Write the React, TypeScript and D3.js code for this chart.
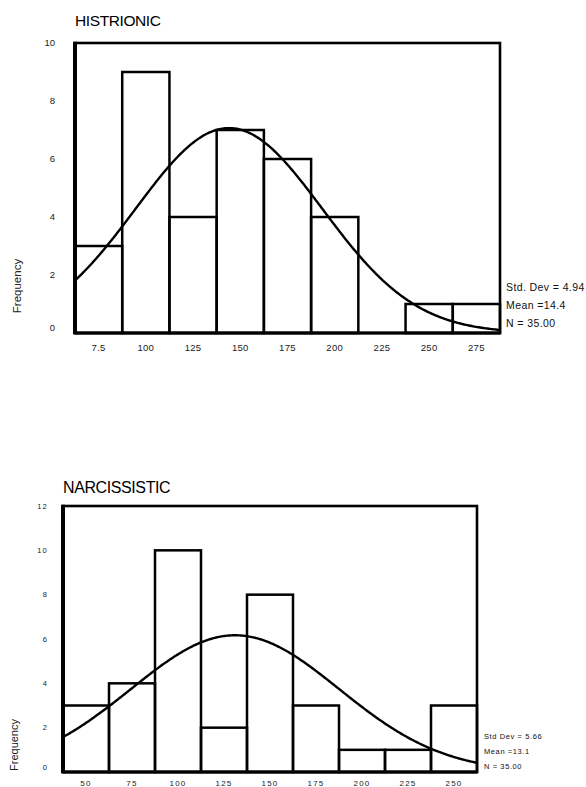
import React from "react";
import * as d3 from "d3";

// ---------- data ----------
const histTitle = "HISTRIONIC";
const histCounts = [3, 9, 4, 7, 6, 4, 0, 1, 1];
const histBinCenters = [7.5, 10, 12.5, 15, 17.5, 20, 22.5, 25, 27.5];
const histTickLabels = ["7.5", "100", "125", "150", "175", "200", "225", "250", "275"];
const histYTicks = [0, 2, 4, 6, 8, 10];
const histStats = [4.94, 14.4, 35]; // sd, mean, n
const histStatLabels = ["Std. Dev = 4.94", "Mean =14.4", "N = 35.00"];

const narcTitle = "NARCISSISTIC";
const narcCounts = [3, 4, 10, 2, 8, 3, 1, 1, 3];
const narcBinCenters = [5, 7.5, 10, 12.5, 15, 17.5, 20, 22.5, 25];
const narcTickLabels = ["50", "75", "100", "125", "150", "175", "200", "225", "250"];
const narcYTicks = [0, 2, 4, 6, 8, 10, 12];
const narcStats = [5.66, 13.1, 35];
const narcStatLabels = ["Std Dev = 5.66", "Mean =13.1", "N = 35.00"];

const BIN_WIDTH = 2.5;
const FONT = "'Liberation Sans', Arial, sans-serif";

type Layout = {
  left: number; right: number; top: number; bottom: number;
  titleX: number; titleY: number; titleSize: number;
  yLabelX: number; yLabelSize: number; yLabelSpacing: number;
  xLabelY: number; xLabelSize: number; xLabelSpacing: number;
  freqX: number; freqY: number; freqSize: number;
  statX: number; statYs: number[]; statSize: number; statSpacing: number;
};

type Props = {
  title: string; counts: number[]; centers: number[]; tickLabels: string[];
  yTicks: number[]; stats: number[]; statLabels: string[]; L: Layout;
};

function Histogram({ title, counts, centers, tickLabels, yTicks, stats, statLabels, L }: Props) {
  const x0 = centers[0] - BIN_WIDTH / 2;
  const x1 = centers[centers.length - 1] + BIN_WIDTH / 2;
  const x = d3.scaleLinear().domain([x0, x1]).range([L.left, L.right]);
  const yMax = yTicks[yTicks.length - 1];
  const y = d3.scaleLinear().domain([0, yMax]).range([L.bottom, L.top]);

  const [sd, mean, n] = stats;
  const peak = (n * BIN_WIDTH) / (sd * Math.sqrt(2 * Math.PI));
  const curvePts = d3.range(0, 301).map((i) => {
    const v = x0 + ((x1 - x0) * i) / 300;
    const z = (v - mean) / sd;
    return [v, peak * Math.exp(-0.5 * z * z)] as [number, number];
  });
  const line = d3.line<[number, number]>()
    .x((d) => x(d[0]))
    .y((d) => y(d[1]));

  return (
    <g>
      <text x={L.titleX} y={L.titleY} fontSize={L.titleSize} fontFamily={FONT} letterSpacing={-0.4}>{title}</text>
      {counts.map((c, i) =>
        c > 0 ? (
          <rect key={i}
            x={x(centers[i] - BIN_WIDTH / 2)}
            y={y(c)}
            width={x(centers[i] + BIN_WIDTH / 2) - x(centers[i] - BIN_WIDTH / 2)}
            height={y(0) - y(c)}
            fill="none" stroke="#000" strokeWidth={2.5} />
        ) : null
      )}
      <path d={line(curvePts) || ""} fill="none" stroke="#000" strokeWidth={2.4} strokeLinejoin="round" />
      <rect x={L.left} y={L.top} width={L.right - L.left} height={L.bottom - L.top}
        fill="none" stroke="#000" strokeWidth={2.6} />
      <line x1={L.left} x2={L.left} y1={L.top - 1.3} y2={L.bottom + 1.3} stroke="#000" strokeWidth={4} />
      <line x1={L.left} x2={L.right} y1={L.bottom} y2={L.bottom} stroke="#000" strokeWidth={3} />
      {yTicks.map((t) => (
        <text key={t} x={L.yLabelX} y={Math.min(y(t), L.bottom - 5)} dy="0.35em" textAnchor="end"
          fontSize={L.yLabelSize} fontFamily={FONT} letterSpacing={L.yLabelSpacing} fill="#222">{t}</text>
      ))}
      {tickLabels.map((t, i) => (
        <text key={t} x={x(centers[i])} y={L.xLabelY} textAnchor="middle"
          fontSize={L.xLabelSize} fontFamily={FONT} letterSpacing={L.xLabelSpacing} fill="#222">{t}</text>
      ))}
      <text transform={`translate(${L.freqX},${L.freqY}) rotate(-90)`} textAnchor="middle" dy="0.35em"
        fontSize={L.freqSize} fontFamily={FONT} fill="#222">Frequency</text>
      {statLabels.map((s, i) => (
        <text key={s} x={L.statX} y={L.statYs[i]} dy="0.35em" fontSize={L.statSize}
          fontFamily={FONT} letterSpacing={L.statSpacing} fill="#111">{s}</text>
      ))}
    </g>
  );
}

const topLayout: Layout = {
  left: 75, right: 500, top: 43, bottom: 333,
  titleX: 75, titleY: 26, titleSize: 15.5,
  yLabelX: 55, yLabelSize: 9.5, yLabelSpacing: 0,
  xLabelY: 351, xLabelSize: 9.5, xLabelSpacing: 0.3,
  freqX: 17, freqY: 286, freqSize: 11.5,
  statX: 506, statYs: [287, 305, 323], statSize: 10.5, statSpacing: 0.4,
};

const bottomLayout: Layout = {
  left: 63, right: 477, top: 506, bottom: 772,
  titleX: 63, titleY: 493, titleSize: 16,
  yLabelX: 48, yLabelSize: 7.5, yLabelSpacing: 1.2,
  xLabelY: 786, xLabelSize: 8, xLabelSpacing: 1.2,
  freqX: 14, freqY: 745, freqSize: 11,
  statX: 484, statYs: [736, 751, 766], statSize: 7.5, statSpacing: 0.6,
};

export default function App() {
  return (
    <svg width={586} height={787} style={{ position: "absolute", left: 0, top: 0, background: "#fff" }}>
      <rect width={586} height={787} fill="#fff" />
      <Histogram title={histTitle} counts={histCounts} centers={histBinCenters} tickLabels={histTickLabels}
        yTicks={histYTicks} stats={histStats} statLabels={histStatLabels} L={topLayout} />
      <Histogram title={narcTitle} counts={narcCounts} centers={narcBinCenters} tickLabels={narcTickLabels}
        yTicks={narcYTicks} stats={narcStats} statLabels={narcStatLabels} L={bottomLayout} />
    </svg>
  );
}
